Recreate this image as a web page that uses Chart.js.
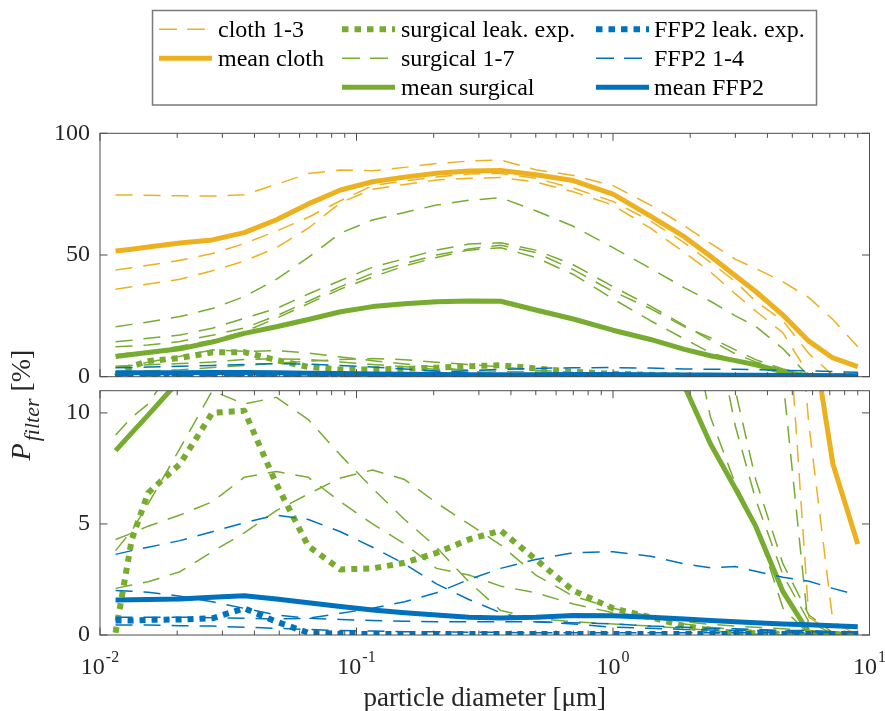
<!DOCTYPE html>
<html>
<head>
<meta charset="utf-8">
<script src="https://cdn.jsdelivr.net/npm/chart.js@4/dist/chart.umd.min.js"></script>
<style>
html,body{margin:0;padding:0;background:#ffffff;}
#wrap{position:relative;width:885px;height:711px;background:#ffffff;}
#wrap canvas{position:absolute;left:0;top:0;}
</style>
</head>
<body>
<div id="wrap">
<canvas id="topChart" width="885" height="711"></canvas>
<canvas id="bottomChart" width="885" height="711"></canvas>
</div>
<script>
// ---------------- data ----------------
const diameters = [0.0115, 0.0133, 0.0154, 0.0205, 0.0274, 0.0365, 0.0487, 0.0649, 0.0866, 0.1155, 0.154, 0.205, 0.274, 0.365, 0.5, 0.7, 1.0, 1.4, 1.9, 2.4, 3.0, 3.6, 4.6, 5.8, 7.2, 9.0];

const cloth1 = [74.6, 74.6, 74.5, 74.3, 74.2, 74.8, 79, 83.5, 84.9, 84.6, 86, 87.6, 88.6, 89, 85, 82.7, 78.5, 70.5, 62, 54.8, 48.2, 44.5, 39, 32.5, 23.5, 12.3];
const cloth2 = [43.8, 44.8, 45.8, 47.8, 50.6, 54.7, 59.8, 65.5, 72.3, 78.5, 80.5, 82, 83.3, 83.5, 81.5, 77.5, 72, 64, 55, 47, 39, 31, 23, 9.5, 0.6, 0];
const cloth3 = [35.9, 37, 38.1, 40, 43.5, 47.5, 53, 61, 71.5, 77, 79, 80.8, 81.5, 81.8, 80, 76, 70.5, 61, 51, 43, 34, 27, 18, 0.8, 0.1, 0];
const meanCloth = [51.6, 52.4, 53.3, 54.9, 56.2, 59.2, 64.5, 71, 76.7, 80.1, 82, 83.6, 84.5, 84.7, 83, 80.6, 75, 66, 57.4, 49.5, 41.5, 35, 25.3, 14.6, 7.7, 4.1];

const surgicalLeak = [0.1, 4.3, 6.4, 7.7, 10.0, 10.1, 6.8, 4.0, 2.95, 3.0, 3.25, 3.7, 4.3, 4.7, 3.4, 2.0, 1.2, 0.8, 0.4, 0.2, 0.1, 0.08, 0.05, 0.05, 0.05, 0.05];
const surgical1 = [20.5, 21.5, 22.5, 24.7, 28, 32.9, 40, 49, 59, 64.4, 67.5, 70.5, 72.5, 73.5, 68.2, 61.8, 53, 44.5, 36.5, 31, 25, 20.7, 11.5, 0.15, 0.05, 0];
const surgical2 = [14.4, 15, 15.8, 17.1, 19.9, 24, 28, 34, 39.5, 45, 48.5, 52, 54.5, 55, 52, 46, 37, 29, 21, 15, 9.4, 6.1, 2.7, 0.6, 0.05, 0];
const surgical3 = [12.3, 12.6, 13, 14.5, 17, 20, 25, 31, 37, 42.5, 46.5, 50, 52.5, 54, 51, 44, 35, 28, 20.5, 16, 11, 7.0, 3.2, 0.9, 0.1, 0];
const surgical4 = [9.0, 9.8, 10.4, 12.5, 15, 18.5, 24, 30, 36, 41, 45.5, 49, 52, 53, 49, 42, 32, 23, 15.5, 9.8, 6.8, 5.0, 1.2, 0.05, 0, 0];
const surgical5 = [4.3, 4.58, 4.9, 5.4, 6.0, 7.1, 7.36, 7.1, 6.0, 5.0, 4.1, 3.0, 2.7, 2.2, 1.9, 1.4, 1.0, 0.8, 0.5, 0.35, 0.25, 0.2, 0.1, 0.05, 0, 0];
const surgical6 = [3.8, 4.7, 5.9, 8.4, 11.0, 10.4, 10.7, 9.7, 8.1, 6.6, 5.2, 3.95, 2.4, 1.1, 0.75, 0.6, 0.5, 0.4, 0.3, 0.2, 0.1, 0.05, 0, 0, 0, 0];
const surgical7 = [2.1, 2.25, 2.4, 2.85, 3.75, 4.6, 5.6, 6.35, 7.07, 7.43, 7.0, 5.95, 5.0, 4.05, 2.7, 1.75, 1.2, 0.85, 0.6, 0.48, 0.4, 0.35, 0.28, 0.2, 0.12, 0.08];
const meanSurgical = [8.3, 9.1, 9.9, 11.5, 14.2, 17.8, 20.5, 23.5, 26.7, 28.8, 30, 30.8, 31.1, 31, 27.4, 23.7, 19.1, 15.3, 11.2, 8.6, 6.6, 4.9, 1.95, 0.1, 0.05, 0];

const ffp2Leak = [0.65, 0.65, 0.68, 0.7, 0.75, 1.2, 0.6, 0.1, 0.05, 0.05, 0.05, 0.05, 0.05, 0.05, 0.05, 0.05, 0.05, 0.05, 0.05, 0.05, 0.05, 0.05, 0.05, 0.05, 0.05, 0.05];
const ffp2_1 = [3.63, 3.8, 3.95, 4.25, 4.65, 5.05, 5.4, 5.2, 4.65, 3.95, 3.2, 2.3, 1.6, 1.0, 0.6, 0.55, 0.5, 0.4, 0.35, 0.3, 0.28, 0.25, 0.2, 0.2, 0.15, 0.15];
const ffp2_2 = [2.0, 1.97, 1.93, 1.75, 1.5, 1.2, 0.9, 0.75, 0.7, 0.65, 0.62, 0.6, 0.6, 0.6, 0.6, 0.5, 0.35, 0.3, 0.25, 0.22, 0.2, 0.2, 0.18, 0.15, 0.15, 0.12];
const ffp2_3 = [0.8, 0.8, 0.8, 0.8, 0.78, 0.75, 0.72, 0.75, 0.98, 1.2, 1.5, 1.9, 2.5, 3.0, 3.4, 3.7, 3.75, 3.55, 3.2, 3.03, 3.08, 2.87, 2.6, 2.42, 2.1, 1.8];
const ffp2_4 = [0.45, 0.45, 0.45, 0.42, 0.4, 0.35, 0.3, 0.25, 0.2, 0.18, 0.15, 0.15, 0.12, 0.12, 0.1, 0.1, 0.1, 0.1, 0.1, 0.1, 0.1, 0.1, 0.1, 0.1, 0.1, 0.1];
const meanFFP2 = [1.58, 1.59, 1.6, 1.62, 1.7, 1.77, 1.62, 1.45, 1.28, 1.13, 1.0, 0.9, 0.8, 0.77, 0.8, 0.88, 0.87, 0.8, 0.72, 0.65, 0.6, 0.55, 0.5, 0.46, 0.42, 0.37];

const xTickValues = [0.01, 0.1, 1, 10];
const xTickBase = '10';
const xTickExponents = ['-2', '-1', '0', '1'];
const topYTicks = [0, 50, 100];
const bottomYTicks = [0, 5, 10];
const legendLabels = ['cloth 1-3', 'mean cloth', 'surgical leak. exp.', 'surgical 1-7', 'mean surgical', 'FFP2 leak. exp.', 'FFP2 1-4', 'mean FFP2'];
const xTitle = 'particle diameter [\u03bcm]';
const yTitleMain = 'P';
const yTitleSub = 'filter';
const yTitleUnit = ' [%]';

// ---------------- styles ----------------
const ORANGE = '#EDB120', GREEN = '#77AC30', BLUE = '#0072BD';
const STYLES = {
  dash: {borderWidth: 1.5, borderDash: [17, 11]},
  solid: {borderWidth: 5, borderDash: []},
  dot: {borderWidth: 6, borderDash: [6, 6]}
};
const FONT = '"Liberation Serif", "Times New Roman", serif';
const AXIS_COLOR = '#262626';
const BOX_COLOR = '#4d4d4d';

// series in plotting order (later ones drawn on top)
const series = [
  {values: cloth1, color: ORANGE, style: 'dash', label: legendLabels[0]},
  {values: cloth2, color: ORANGE, style: 'dash', label: legendLabels[0]},
  {values: cloth3, color: ORANGE, style: 'dash', label: legendLabels[0]},
  {values: meanCloth, color: ORANGE, style: 'solid', label: legendLabels[1]},
  {values: surgicalLeak, color: GREEN, style: 'dot', label: legendLabels[2]},
  {values: surgical1, color: GREEN, style: 'dash', label: legendLabels[3]},
  {values: surgical2, color: GREEN, style: 'dash', label: legendLabels[3]},
  {values: surgical3, color: GREEN, style: 'dash', label: legendLabels[3]},
  {values: surgical4, color: GREEN, style: 'dash', label: legendLabels[3]},
  {values: surgical5, color: GREEN, style: 'dash', label: legendLabels[3]},
  {values: surgical6, color: GREEN, style: 'dash', label: legendLabels[3]},
  {values: surgical7, color: GREEN, style: 'dash', label: legendLabels[3]},
  {values: meanSurgical, color: GREEN, style: 'solid', label: legendLabels[4]},
  {values: ffp2Leak, color: BLUE, style: 'dot', label: legendLabels[5]},
  {values: ffp2_1, color: BLUE, style: 'dash', label: legendLabels[6]},
  {values: ffp2_2, color: BLUE, style: 'dash', label: legendLabels[6]},
  {values: ffp2_3, color: BLUE, style: 'dash', label: legendLabels[6]},
  {values: ffp2_4, color: BLUE, style: 'dash', label: legendLabels[6]},
  {values: meanFFP2, color: BLUE, style: 'solid', label: legendLabels[7]}
];

// legend layout: [label index, color, style, column, row]
const legendItems = [
  [0, ORANGE, 'dash', 0, 0], [1, ORANGE, 'solid', 0, 1],
  [2, GREEN, 'dot', 1, 0], [3, GREEN, 'dash', 1, 1], [4, GREEN, 'solid', 1, 2],
  [5, BLUE, 'dot', 2, 0], [6, BLUE, 'dash', 2, 1], [7, BLUE, 'solid', 2, 2]
];

function makeDatasets() {
  return series.map((s, i) => ({
    label: s.label,
    data: diameters.map((d, k) => ({x: d, y: s.values[k]})),
    borderColor: s.color,
    backgroundColor: s.color,
    borderWidth: STYLES[s.style].borderWidth,
    borderDash: STYLES[s.style].borderDash,
    borderCapStyle: 'butt',
    borderJoinStyle: 'round',
    pointRadius: 0,
    pointHoverRadius: 0,
    fill: false,
    tension: 0,
    order: series.length - i
  }));
}

// MATLAB-like box with inward ticks
const boxPlugin = {
  id: 'matlabBox',
  afterDraw(chart) {
    const ctx = chart.ctx, a = chart.chartArea;
    const xs = chart.scales.x, ys = chart.scales.y;
    ctx.save();
    ctx.strokeStyle = BOX_COLOR;
    ctx.lineWidth = 1;
    ctx.setLineDash([]);
    ctx.strokeRect(a.left, a.top, a.right - a.left, a.bottom - a.top);
    ctx.beginPath();
    for (let e = -2; e <= 0; e++) {
      for (let m = 1; m <= 9; m++) {
        const v = m * Math.pow(10, e);
        const px = xs.getPixelForValue(v);
        const len = m === 1 ? 7.5 : 4.5;
        ctx.moveTo(px, a.bottom); ctx.lineTo(px, a.bottom - len);
        ctx.moveTo(px, a.top); ctx.lineTo(px, a.top + len);
      }
    }
    ys.ticks.forEach(t => {
      const py = ys.getPixelForValue(t.value);
      ctx.moveTo(a.left, py); ctx.lineTo(a.left + 7.5, py);
      ctx.moveTo(a.right, py); ctx.lineTo(a.right - 7.5, py);
    });
    ctx.stroke();
    ctx.restore();
  }
};

// legend + y title (top canvas)
const legendPlugin = {
  id: 'matlabLegend',
  afterDraw(chart) {
    const ctx = chart.ctx;
    ctx.save();
    ctx.strokeStyle = '#7a7a7a';
    ctx.lineWidth = 1.5;
    ctx.setLineDash([]);
    ctx.strokeRect(152.5, 10.5, 664, 94.5);
    const colX = [159, 342, 596];
    const textX = [218, 401, 654];
    const rowY = [29.3, 58.3, 87.3];
    legendItems.forEach(([li, color, style, c, r]) => {
      const st = STYLES[style];
      ctx.beginPath();
      ctx.strokeStyle = color;
      ctx.lineWidth = st.borderWidth;
      ctx.lineCap = 'butt';
      ctx.setLineDash(style === 'dash' ? [18, 10] : style === 'dot' ? [6.5, 6] : []);
      ctx.moveTo(colX[c], rowY[r]);
      ctx.lineTo(colX[c] + 53, rowY[r]);
      ctx.stroke();
      ctx.setLineDash([]);
      ctx.fillStyle = '#000000';
      ctx.font = '24px ' + FONT;
      ctx.textAlign = 'left';
      ctx.textBaseline = 'alphabetic';
      ctx.fillText(legendLabels[li], textX[c], rowY[r] + 7.5);
    });
    // y axis title, rotated
    ctx.fillStyle = AXIS_COLOR;
    ctx.font = 'italic 28px ' + FONT;
    const wP = ctx.measureText(yTitleMain).width;
    ctx.font = 'italic 22px ' + FONT;
    const wS = ctx.measureText(yTitleSub).width;
    ctx.font = '28px ' + FONT;
    const wU = ctx.measureText(yTitleUnit).width;
    const gap = 2;
    const total = wP + gap + wS + wU;
    const cy = 405;
    ctx.translate(30, cy + total / 2);
    ctx.rotate(-Math.PI / 2);
    ctx.textAlign = 'left';
    ctx.textBaseline = 'alphabetic';
    ctx.font = 'italic 28px ' + FONT;
    ctx.fillText(yTitleMain, 0, 0);
    ctx.font = 'italic 22px ' + FONT;
    ctx.fillText(yTitleSub, wP + gap, 9);
    ctx.font = '28px ' + FONT;
    ctx.fillText(yTitleUnit, wP + gap + wS, 0);
    ctx.restore();
  }
};

// x tick labels with superscripts + x title (bottom canvas)
const xLabelPlugin = {
  id: 'xLabels',
  afterDraw(chart) {
    const ctx = chart.ctx, xs = chart.scales.x, a = chart.chartArea;
    ctx.save();
    ctx.fillStyle = AXIS_COLOR;
    ctx.textBaseline = 'alphabetic';
    ctx.textAlign = 'left';
    xTickValues.forEach((v, i) => {
      const px = xs.getPixelForValue(v);
      ctx.font = '24px ' + FONT;
      const w1 = ctx.measureText(xTickBase).width;
      ctx.font = '16px ' + FONT;
      const w2 = ctx.measureText(xTickExponents[i]).width;
      const x0 = px - (w1 + 1 + w2) / 2;
      ctx.font = '24px ' + FONT;
      ctx.fillText(xTickBase, x0, 674);
      ctx.font = '16px ' + FONT;
      ctx.fillText(xTickExponents[i], x0 + w1 + 1, 662);
    });
    ctx.font = '27px ' + FONT;
    ctx.textAlign = 'center';
    ctx.fillText(xTitle, (a.left + a.right) / 2, 706);
    ctx.restore();
  }
};

function yAxis(ticksArr, maxV) {
  return {
    type: 'linear',
    position: 'left',
    min: 0,
    max: maxV,
    afterFit(s) { s.width = 100; },
    afterBuildTicks(s) { s.ticks = ticksArr.map(v => ({value: v})); },
    grid: {display: false, drawTicks: false},
    border: {display: false},
    ticks: {padding: 10, color: AXIS_COLOR, font: {family: FONT, size: 24}}
  };
}

const baseOptions = {
  responsive: false,
  animation: false,
  devicePixelRatio: 1,
  events: [],
  plugins: {legend: {display: false}, tooltip: {enabled: false}}
};

new Chart(document.getElementById('topChart'), {
  type: 'line',
  data: {datasets: makeDatasets()},
  options: Object.assign({}, baseOptions, {
    layout: {padding: {left: 0, top: 133.3, right: 15.5, bottom: 334.3}},
    scales: {
      x: {type: 'logarithmic', min: 0.01, max: 10, display: false},
      y: yAxis(topYTicks, 100)
    }
  }),
  plugins: [boxPlugin, legendPlugin]
});

new Chart(document.getElementById('bottomChart'), {
  type: 'line',
  data: {datasets: makeDatasets()},
  options: Object.assign({}, baseOptions, {
    layout: {padding: {left: 0, top: 390.7, right: 15.5, bottom: 76}},
    scales: {
      x: {type: 'logarithmic', min: 0.01, max: 10, display: false},
      y: yAxis(bottomYTicks, 11)
    }
  }),
  plugins: [boxPlugin, xLabelPlugin]
});
</script>
</body>
</html>
